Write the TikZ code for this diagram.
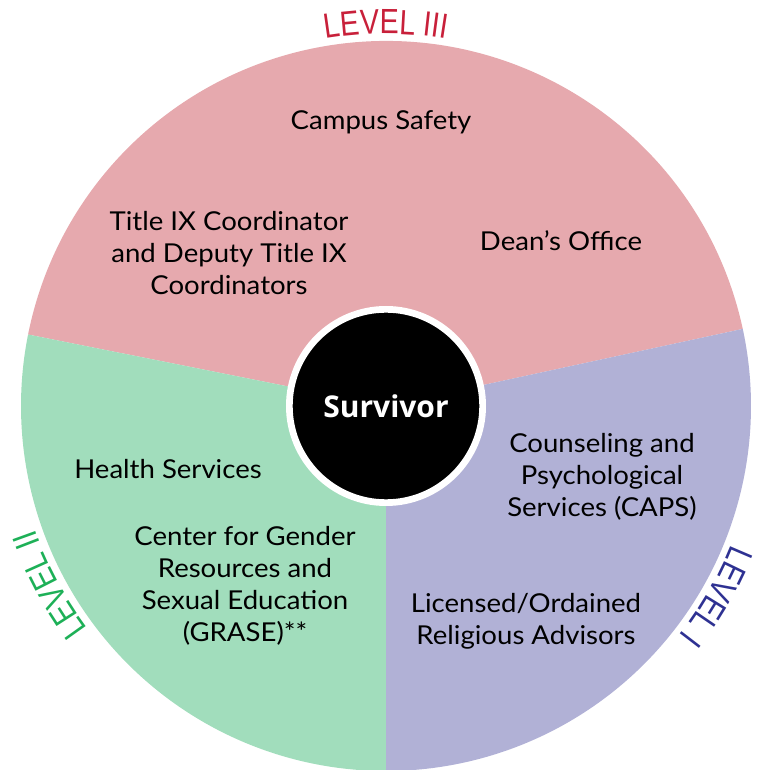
\documentclass[tikz,border=0pt]{standalone}
\usepackage{fontspec}
\setmainfont{Lato}[FakeStretch=1.06]
\newfontfamily\survivorfont{Open Sans}
\newfontfamily\levelfont{Liberation Sans}[FakeStretch=0.82]
\usetikzlibrary{decorations.text}

\definecolor{lvlthree}{RGB}{230,169,174}
\definecolor{lvltwo}{RGB}{161,221,188}
\definecolor{lvlone}{RGB}{177,177,214}
\definecolor{lvlthreetext}{RGB}{200,32,58}
\definecolor{lvltwotext}{RGB}{29,176,87}
\definecolor{lvlonetext}{RGB}{46,49,146}

\tikzset{
  office/.style={align=center, font=\fontsize{26}{32}\selectfont},
  levellabel/.style={decorate, decoration={text along path, text align=center, text color=#1}}
}

\begin{document}
\begin{tikzpicture}[x=1pt,y=1pt]
\useasboundingbox (-386,-364) rectangle (370,406);

\fill[lvlthree] (0,0)--(12.2:365) arc[start angle=12.2, end angle=168.7, radius=365]--cycle;
    \fill[lvltwo] (0,0)--(168.7:365) arc[start angle=168.7, end angle=270, radius=365]--cycle;
    \fill[lvlone] (0,0)--(-90:365) arc[start angle=-90, end angle=12.2, radius=365]--cycle;

\path[levellabel=lvlthreetext, decoration={text={|\levelfont\fontsize{35}{35}\selectfont|LEVEL III}}]
    (120:372) arc[start angle=120, end angle=60, radius=372];
\path[levellabel=lvltwotext, decoration={text={|\levelfont\fontsize{35}{35}\selectfont|LEVEL II}}]
    (238:372) arc[start angle=238, end angle=178, radius=372];
\path[levellabel=lvlonetext, decoration={text={|\levelfont\fontsize{35}{35}\selectfont|LEVEL I}}]
    (0:372) arc[start angle=0, end angle=-60, radius=372];

\node[circle, fill=black, draw=white, line width=6.7pt, minimum size=193.3pt, text=white,
      font=\survivorfont\bfseries\fontsize{30}{30}\selectfont] (survivor) at (0,0) {Survivor};

\node[office] (campus) at (-5,284) {Campus Safety};
    \node[office] (titleix) at (-157,153) {Title IX Coordinator\\and Deputy Title IX\\Coordinators};
    \node[office] (dean) at (175,165) {Dean’s Office};

\node[office] (health) at (-218,-63) {Health Services};
    \node[office] (grase) at (-141,-180) {Center for Gender\\Resources and\\Sexual Education\\(GRASE)**};

\node[office] (caps) at (216,-71) {Counseling and\\Psychological\\Services (CAPS)};
    \node[office] (religious) at (140,-215) {Licensed/Ordained\\Religious Advisors};

\end{tikzpicture}
\end{document}
